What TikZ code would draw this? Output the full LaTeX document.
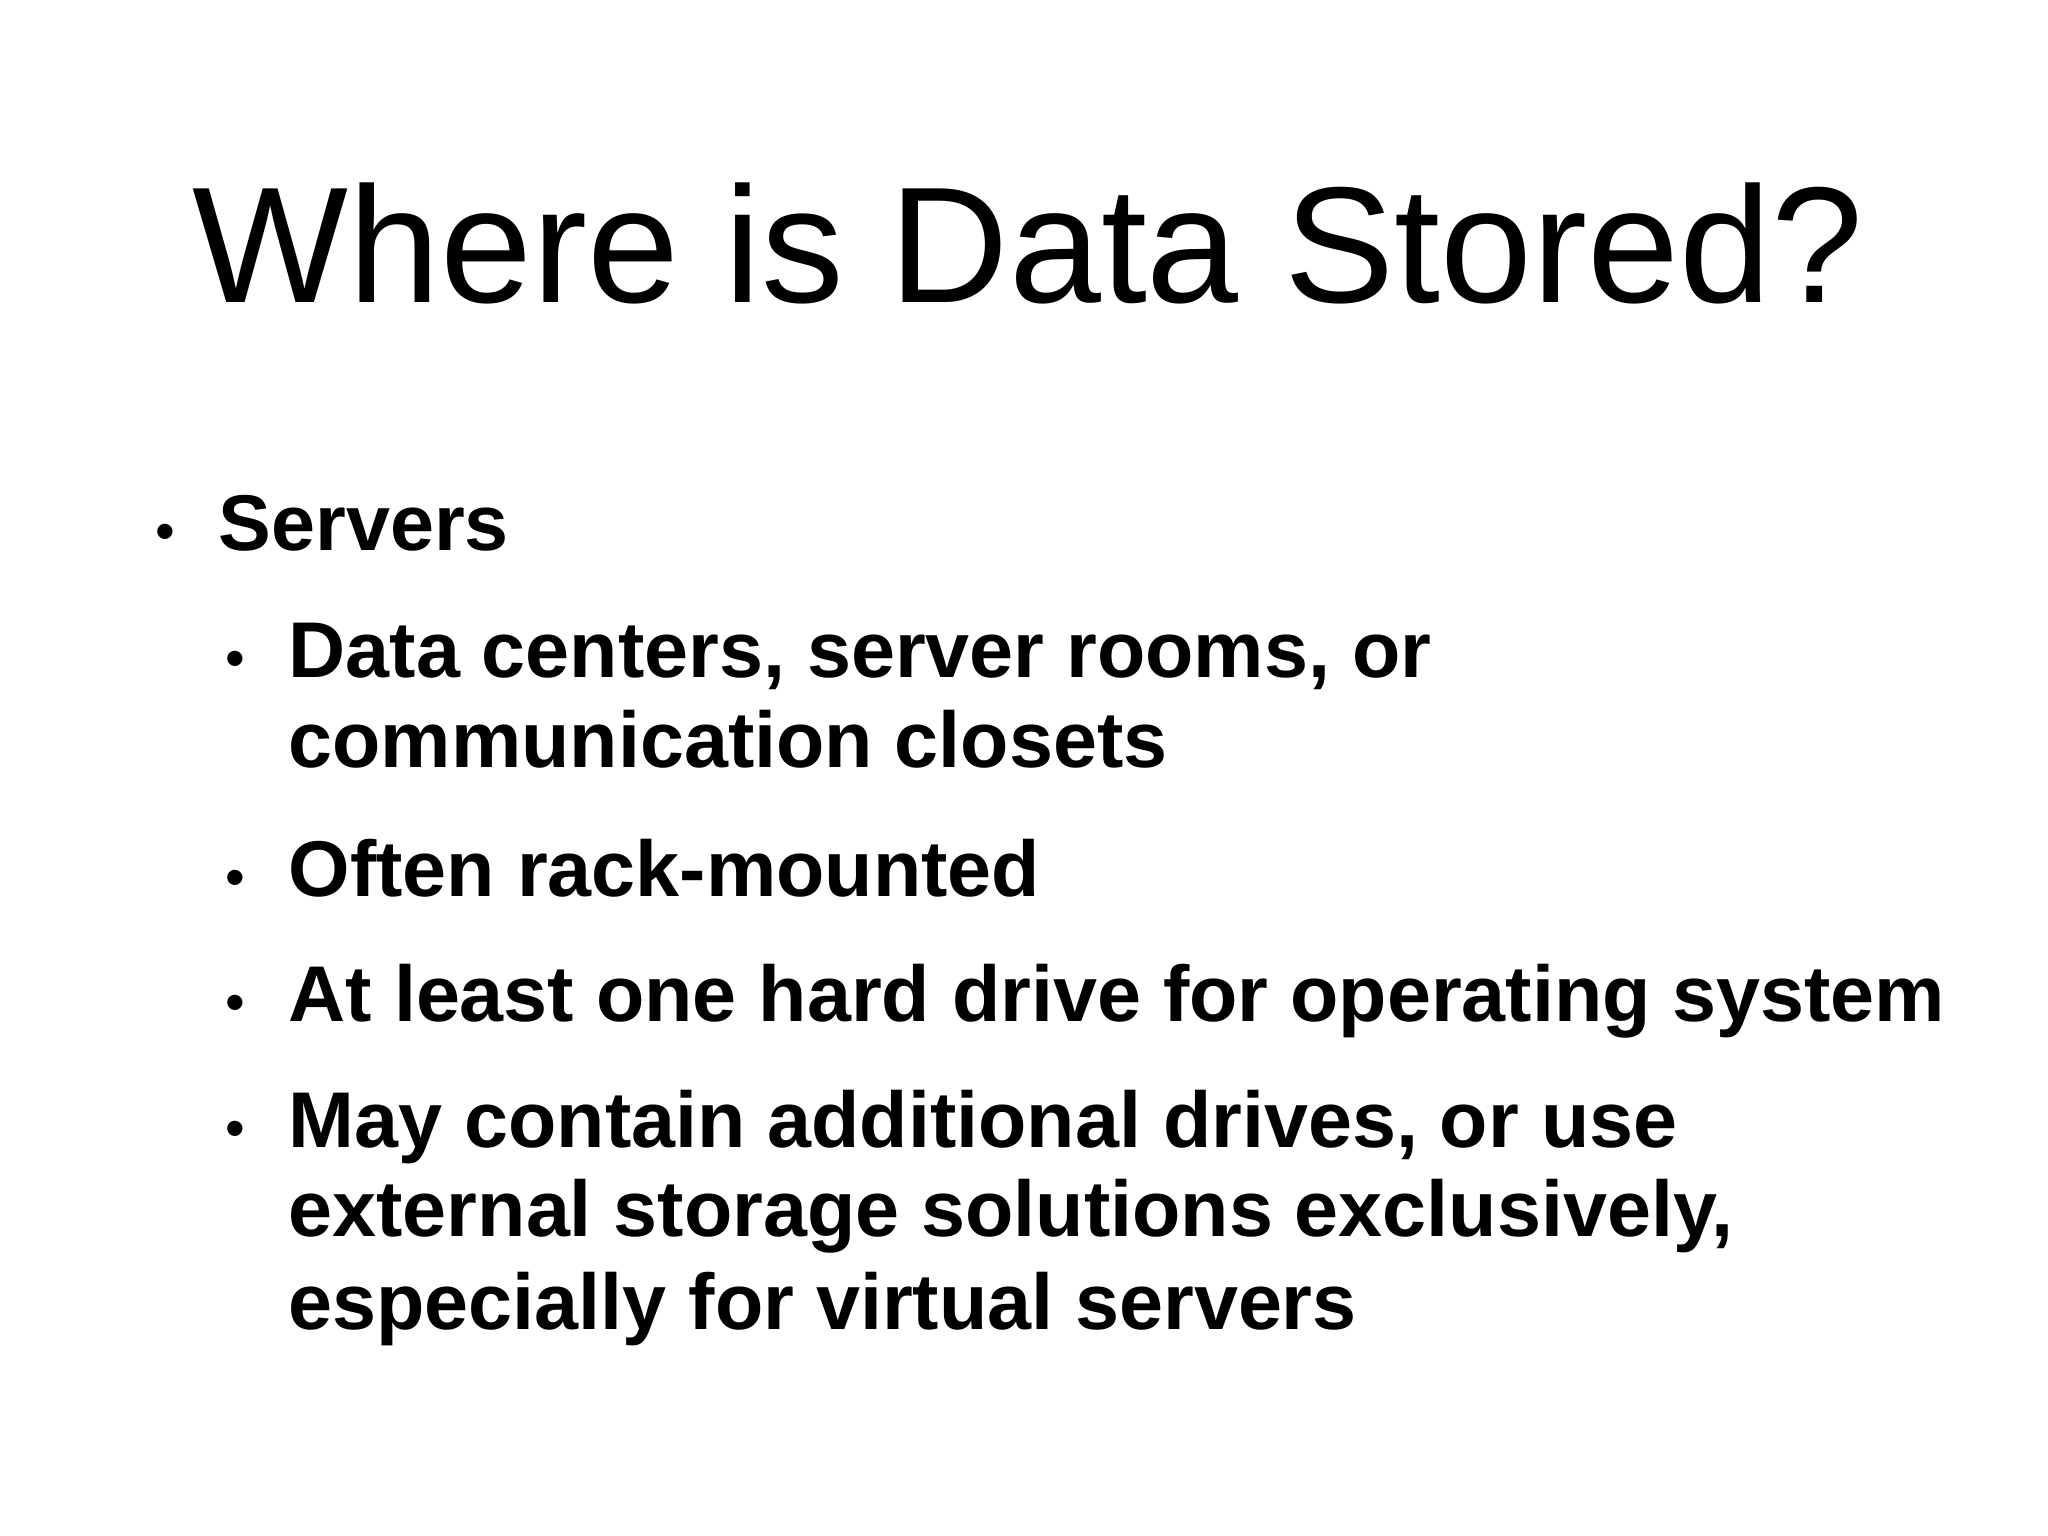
\documentclass[tikz,border=0pt]{standalone}
\usepackage{fontspec}
\setmainfont{Liberation Sans}
\begin{document}
\begin{tikzpicture}[
  txt/.style={anchor=base west,inner sep=0pt,font=\fontsize{22.5}{27}\selectfont\bfseries},
  bul/.style={anchor=base west,inner sep=0pt,font=\fontsize{16}{20}\selectfont}]
\useasboundingbox (0,0) rectangle (20.48,15.36);
\fill[white] (0,0) rectangle (20.48,15.36);
\node[anchor=base,inner sep=0pt,font=\fontsize{47}{56}\selectfont] (title) at (10.28,12.33) {Where is Data Stored?};
\node[bul] (b1) at (1.55,9.85) {•};
\node[txt] (t1) at (2.18,9.85) {Servers};
\node[bul] (b2) at (2.25,8.58) {•};
\node[txt] (t2a) at (2.88,8.58) {Data centers, server rooms, or};
\node[txt] (t2b) at (2.88,7.68) {communication closets};
\node[bul] (b3) at (2.25,6.39) {•};
\node[txt] (t3) at (2.88,6.39) {Often rack-mounted};
\node[bul] (b4) at (2.25,5.14) {•};
\node[txt] (t4) at (2.88,5.14) {At least one hard drive for operating system};
\node[bul] (b5) at (2.25,3.88) {•};
\node[txt] (t5a) at (2.88,3.88) {May contain additional drives, or use};
\node[txt] (t5b) at (2.88,2.99) {external storage solutions exclusively,};
\node[txt] (t5c) at (2.88,2.06) {especially for virtual servers};
\end{tikzpicture}
\end{document}
